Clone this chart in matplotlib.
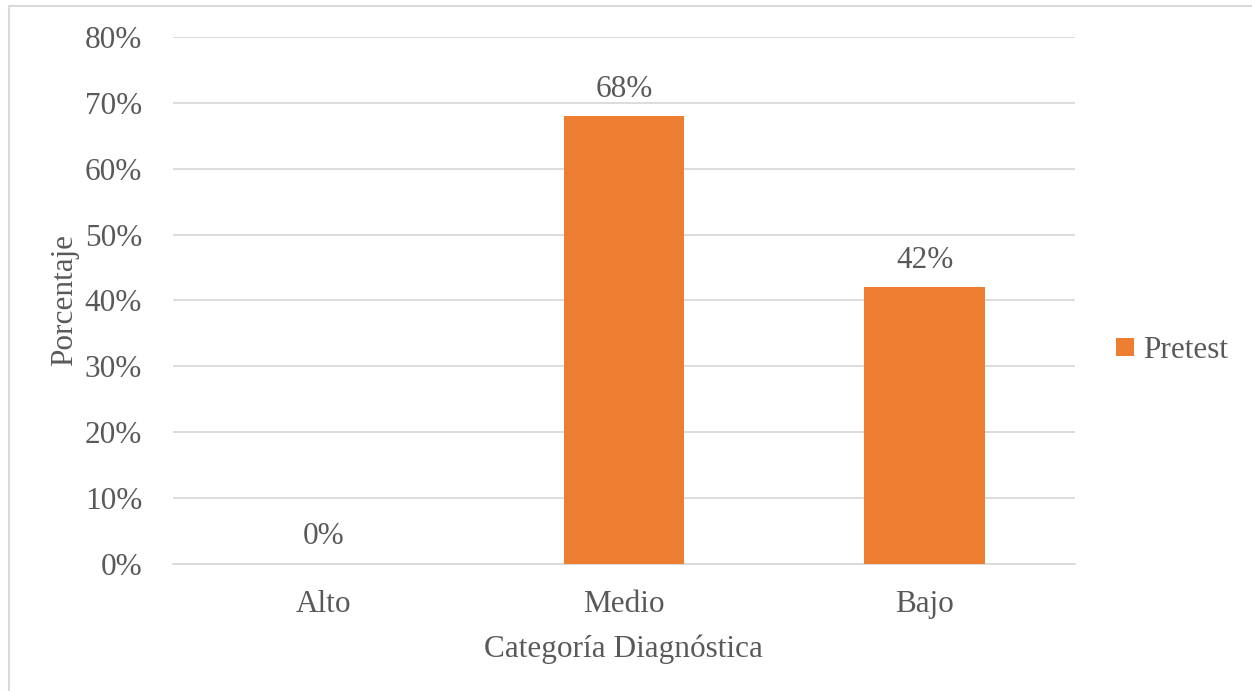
import matplotlib.pyplot as plt
from matplotlib.lines import Line2D

categories = ['Alto', 'Medio', 'Bajo']
pretest = [0, 68, 42]
yticks = [0, 10, 20, 30, 40, 50, 60, 70, 80]

plt.rcParams['font.family'] = ['Liberation Serif', 'DejaVu Serif']
text_color = '#595959'
grid_color = '#d9d9d9'
bar_color = '#ED7D31'
fs = 22.5

fig = plt.figure(figsize=(12.52, 6.91), dpi=100)
ax = fig.add_axes([0.138, 0.1838, 0.7206, 0.7627])

x = range(len(categories))
bars = ax.bar(x, pretest, width=0.4, color=bar_color, label='Pretest', zorder=3)

for xi, v in zip(x, pretest):
    ax.annotate(f'{v}%', (xi, v), xytext=(0, 9), textcoords='offset points',
                ha='center', va='bottom', fontsize=fs, color=text_color)

ax.set_xlim(-0.5, 2.5)
ax.set_ylim(0, 80)
ax.set_yticks(yticks)
ax.set_yticklabels([f'{t}%' for t in yticks])
ax.set_xticks(list(x))
ax.set_xticklabels(categories)

ax.grid(axis='y', color=grid_color, linewidth=1.3, zorder=0)
for s in ['top', 'right', 'left']:
    ax.spines[s].set_visible(False)
ax.spines['bottom'].set_color(grid_color)
ax.spines['bottom'].set_linewidth(1.3)
ax.tick_params(axis='y', length=0, pad=22, labelsize=fs, labelcolor=text_color)
ax.tick_params(axis='x', length=0, pad=19, labelsize=fs, labelcolor=text_color)

ax.set_xlabel('Categoría Diagnóstica', fontsize=fs, color=text_color, labelpad=11)
ax.set_ylabel('Porcentaje', fontsize=fs, color=text_color, labelpad=4)

ax.legend(loc='center left', bbox_to_anchor=(1.032, 0.405), frameon=False,
          fontsize=fs, labelcolor=text_color, handlelength=0.55, handleheight=0.55,
          handletextpad=0.3, borderaxespad=0)

# light frame on left and top edges
fig.add_artist(Line2D([8.5 / 1252, 8.5 / 1252], [0, 1 - 5.5 / 691], color=grid_color, linewidth=1.5))
fig.add_artist(Line2D([8.5 / 1252, 1], [1 - 5.5 / 691, 1 - 5.5 / 691], color=grid_color, linewidth=1.5))

fig.savefig('out.png', dpi=100)
